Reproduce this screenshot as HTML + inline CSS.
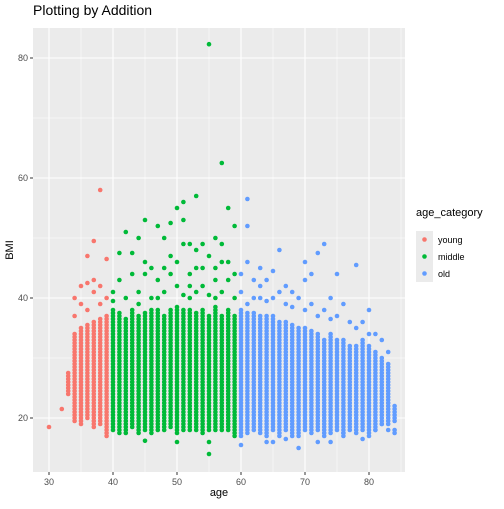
<!DOCTYPE html>
<html><head><meta charset="utf-8"><style>
body{margin:0;background:#fff;font-family:"Liberation Sans",sans-serif}
</style></head><body>
<svg id="c" width="504" height="504" xmlns="http://www.w3.org/2000/svg">
<rect x="0" y="0" width="504" height="504" fill="#fff"/>
<text x="33" y="15" font-size="14" fill="#000">Plotting by Addition</text>
<rect x="33" y="28" width="372" height="444" fill="#EBEBEB"/>
<g id="grid"></g>
<g id="pts"></g>
<g id="axes"></g>
<text x="219" y="496" font-size="11" text-anchor="middle">age</text>
<text transform="translate(13,250) rotate(-90)" font-size="11" text-anchor="middle">BMI</text>
<g>
<text x="416" y="216" font-size="11">age_category</text>
<g id="leg"></g>
</g>
</svg>
<script>
const categories=["young","middle","old"];
const colors=["#F8766D","#00BA38","#619CFF"];
const xTicks=[30,40,50,60,70,80];
const yTicks=[20,40,60,80];
// dense column cores per age: [age, lowBMI, highBMI]
const cores=[[33,24,27.5],[34,19.5,34],[35,19,35],[36,20,35.5],[37,18.5,36],[38,19,36.5],[39,17,37],
[40,18,38],[41,17.5,37.5],[42,18,36.5],[43,18.5,38],[44,17.5,37],[45,18,37.5],[46,17.5,38],[47,18,38],[48,18,37],[49,18.5,38],
[50,17.5,38.5],[51,18,38],[52,18,38],[53,18,37.5],[54,17.5,38],[55,18,37],[56,18,38.5],[57,18,37],[58,18,38],[59,17,37],
[60,17,38],[61,17.5,37.5],[62,18,37.5],[63,17.5,37],[64,17,37],[65,18,37],[66,17.5,36],[67,18,36],[68,17,35.5],[69,17,35],
[70,18,35],[71,17.5,34.5],[72,18,34],[73,17,33],[74,17.5,34],[75,18,33],[76,17,33],[77,18,32],[78,17.5,32],[79,18,33],
[80,17,32],[81,18,31],[82,19,30],[83,19,29],[84,19.5,22]];
// isolated points: [age, BMI]
const extras=[[30,18.5],[32,21.5],[34,40],[35,42],[35,39],[36,42.5],[36,47],[37,49.5],[38,58],[37,43],[38,42],[39,46.5],[39,40],[37,41],[36,38],[38,39],[34,37],
[41,47.5],[42,51],[43,47.5],[44,50],[45,53],[47,52],[48,50],[49,52.5],[50,55],[51,53],[51,56],[52,49],[53,57],[54,49],[55,82.3],
[56,50],[57,62.5],[58,55],[59,52],[61,56.5],[61,52],[62,43],[65,44.5],[66,48],[70,46],[71,44],[72,47.5],[73,49],[75,44],[78,45.5],
[55,14],[55,16],[50,16],[45,16.2],[42,17.5],[69,15],[64,16],[66,17],[76,17.5],[81,18],[83,18],[84,18],[82,19],[45,44],[48,45],[53,45],[57,46],[63,42],[68,41],
[40,41],[41,43],[42,40],[43,44],[44,41],[45,46],[46,40],[46,45],[47,43],[48,41],[49,44],[49,47],[50,42],[50,46],[51,40.5],[51,49],[52,44],[52,42],[53,41],[53,48],[54,45],[54,42],[55,40.5],[55,47],[56,43],[56,45],[57,41],[57,49],[58,43],[58,46],[59,40],[59,44],[40,39.5],[44,39],[47,40],[52,40],[56,40],
[60,41],[60,44],[61,39],[61,46],[62,40],[63,40],[63,45],[64,39.5],[64,43],[65,40],[66,41],[67,39],[67,42],[68,38.5],[69,40],[70,38],[70,43],[71,39],[72,37],[73,38],[74,36.5],[74,40],[75,37],[76,39],[77,36],[78,35],[79,36],[80,34],[80,38],[81,34],[82,33],[83,31],[84,17.5],[65,16],[72,16],[60,15.5],[67,16.5],[74,16],[79,16.5]];
const ns="http://www.w3.org/2000/svg";
const X=a=>49+(a-30)*6.4, Y=b=>418-(b-20)*6;
const cat=a=>a<40?0:(a<60?1:2);
function mk(t,at,p){const e=document.createElementNS(ns,t);for(const k in at)e.setAttribute(k,at[k]);p.appendChild(e);return e;}
const g=document.getElementById('grid');
for(let v=35;v<=85;v+=10){const l=mk('line',{x1:X(v),x2:X(v),y1:28,y2:472,stroke:'#fff','stroke-width':0.5},g);}
for(let v=30;v<=70;v+=20){const l=mk('line',{x1:33,x2:405,y1:Y(v),y2:Y(v),stroke:'#fff','stroke-width':0.5},g);}
const ax=document.getElementById('axes');
xTicks.forEach(v=>{const l=mk('line',{x1:X(v),x2:X(v),y1:28,y2:472,stroke:'#fff','stroke-width':1.1},g);
mk('line',{x1:X(v),x2:X(v),y1:472,y2:475,stroke:'#333'},ax);
const t=mk('text',{x:X(v),y:485,'font-size':9,'text-anchor':'middle',fill:'#4d4d4d'},ax);t.textContent=v;});
yTicks.forEach(v=>{const l=mk('line',{x1:33,x2:405,y1:Y(v),y2:Y(v),stroke:'#fff','stroke-width':1.1},g);
mk('line',{x1:30,x2:33,y1:Y(v),y2:Y(v),stroke:'#333'},ax);
const t=mk('text',{x:28,y:Y(v)+3,'font-size':9,'text-anchor':'end',fill:'#4d4d4d'},ax);t.textContent=v;});
const P=document.getElementById('pts');
cores.forEach(([a,lo,hi])=>{for(let b=lo;b<=hi;b+=0.5){const c=mk('circle',{cx:X(a),cy:Y(b),r:2.3,fill:colors[cat(a)]},P);}});
extras.forEach(([a,b])=>{const c=mk('circle',{cx:X(a),cy:Y(b),r:2.3,fill:colors[cat(a)]},P);});
const L=document.getElementById('leg');
categories.forEach((n,i)=>{const y=231+i*17;
const r=mk('rect',{x:416,y:y,width:17,height:17,fill:'#EBEBEB'},L);
mk('circle',{cx:424.5,cy:y+8.5,r:2.3,fill:colors[i]},L);
const t=mk('text',{x:438,y:y+12,'font-size':9,fill:'#000'},L);t.textContent=n;});
</script>
</body></html>
